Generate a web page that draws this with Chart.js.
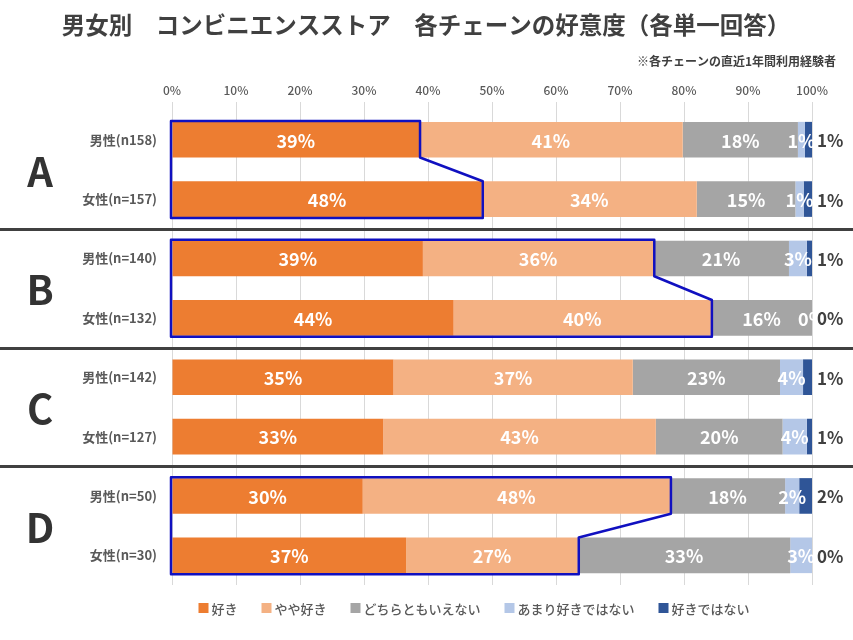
<!DOCTYPE html>
<html>
<head>
<meta charset="utf-8">
<script src="https://cdn.jsdelivr.net/npm/chart.js@4"></script>
<style>
  html, body { margin: 0; padding: 0; background: #fff; }
  #wrap { width: 853px; height: 640px; }
</style>
</head>
<body>
<div id="wrap"><canvas id="chart"></canvas></div>
<script>
const FONT = "'Noto Sans CJK JP', 'Noto Sans', sans-serif";

const title = "男女別　コンビニエンスストア　各チェーンの好意度（各単一回答）";
const subtitle = "※各チェーンの直近1年間利用経験者";

const rowLabels = ["男性(n158)", "女性(n=157)", "男性(n=140)", "女性(n=132)",
                   "男性(n=142)", "女性(n=127)", "男性(n=50)", "女性(n=30)"];
const groups = ["A", "B", "C", "D"];

const answers = ["好き", "やや好き", "どちらともいえない", "あまり好きではない", "好きではない"];
const answerColors = ["#ED7D31", "#F4B183", "#A5A5A5", "#B4C7E7", "#2F5597"];

const like       = [38.6, 48.4, 39.2, 44.0, 34.6, 33.0, 29.8, 36.6];
const ratherLike = [41.2, 33.6, 36.0, 40.2, 37.4, 42.6, 48.0, 26.8];
const neither    = [18.0, 15.4, 21.2, 15.8, 23.0, 19.8, 18.0, 33.2];
const ratherNot  = [1.1, 1.3, 2.8, 0, 3.6, 3.8, 2.2, 3.4];
const dislike    = [1.1, 1.3, 0.8, 0, 1.4, 0.8, 2.0, 0];

const xTicks = [0, 10, 20, 30, 40, 50, 60, 70, 80, 90, 100];

// blue outlines: which two rows, and up to which answer the box reaches
const outlines = [
  { rows: [0, 1], upto: 0 },
  { rows: [2, 3], upto: 1 },
  { rows: [6, 7], upto: 1 },
];

const series = [like, ratherLike, neither, ratherNot, dislike];

const decor = {
  id: "decor",
  afterDatasetsDraw(chart) {
    const ctx = chart.ctx;
    const x0 = chart.scales.x.getPixelForValue(0);

    // blue boxes
    ctx.save();
    ctx.strokeStyle = "#1010c0";
    ctx.lineWidth = 2.5;
    ctx.lineJoin = "round";
    outlines.forEach(o => {
      const meta = chart.getDatasetMeta(o.upto);
      const a = meta.data[o.rows[0]], b = meta.data[o.rows[1]];
      const aTop = a.y - a.height / 2 - 1, aBot = a.y + a.height / 2;
      const bTop = b.y - b.height / 2, bBot = b.y + b.height / 2 + 1;
      ctx.beginPath();
      ctx.moveTo(x0 - 1, aTop);
      ctx.lineTo(a.x + 1, aTop);
      ctx.lineTo(a.x + 1, aBot);
      ctx.lineTo(b.x + 1, bTop);
      ctx.lineTo(b.x + 1, bBot);
      ctx.lineTo(x0 - 1, bBot);
      ctx.closePath();
      ctx.stroke();
    });
    ctx.restore();

    // value labels
    ctx.save();
    ctx.textBaseline = "middle";
    series.forEach((vals, i) => {
      if (i > 3) return;
      const meta = chart.getDatasetMeta(i);
      meta.data.forEach((bar, j) => {
        ctx.font = "bold 18px " + FONT;
        ctx.fillStyle = "#ffffff";
        ctx.textAlign = "center";
        ctx.fillText(Math.round(vals[j]) + "%", (bar.x + bar.base) / 2, bar.y + 1);
      });
    });
    const last = chart.getDatasetMeta(4);
    last.data.forEach((bar, j) => {
      ctx.font = "bold 17px " + FONT;
      ctx.fillStyle = "#404040";
      ctx.textAlign = "left";
      ctx.fillText(Math.round(dislike[j]) + "%", bar.x + 5, bar.y + 1);
    });
    ctx.restore();
  },
  afterDraw(chart) {
    const ctx = chart.ctx;
    const y = chart.scales.y;
    const W = chart.width;
    ctx.save();

    // title + note
    ctx.fillStyle = "#404040";
    ctx.textBaseline = "middle";
    ctx.textAlign = "center";
    ctx.font = "bold 23.5px " + FONT;
    ctx.fillText(title, 426, 25);
    ctx.textAlign = "right";
    ctx.font = "bold 12px " + FONT;
    ctx.fillText(subtitle, 836, 61);

    // group separators and letters
    const step = (y.getPixelForValue(1) - y.getPixelForValue(0));
    ctx.strokeStyle = "#404040";
    ctx.lineWidth = 3;
    for (let g = 1; g < groups.length; g++) {
      const py = Math.round(y.getPixelForValue(g * 2) - step / 2) + 0.5;
      ctx.beginPath();
      ctx.moveTo(0, py);
      ctx.lineTo(W, py);
      ctx.stroke();
    }
    ctx.fillStyle = "#333333";
    ctx.textAlign = "center";
    ctx.font = "bold 40px " + FONT;
    groups.forEach((gname, g) => {
      const py = (y.getPixelForValue(g * 2) + y.getPixelForValue(g * 2 + 1)) / 2;
      ctx.fillText(gname, 40, py + 2);
    });

    // legend
    ctx.font = "500 13px " + FONT;
    const box = 10, gapBox = 3, gapItem = 24;
    const widths = answers.map(a => ctx.measureText(a).width);
    const total = widths.reduce((s, w) => s + box + gapBox + w, 0) + gapItem * (answers.length - 1);
    let lx = 474 - total / 2;
    const ly = 608;
    ctx.textAlign = "left";
    answers.forEach((a, i) => {
      ctx.fillStyle = answerColors[i];
      ctx.fillRect(lx, ly - box / 2, box, box);
      ctx.fillStyle = "#595959";
      ctx.fillText(a, lx + box + gapBox, ly + 1);
      lx += box + gapBox + widths[i] + gapItem;
    });
    ctx.restore();
  }
};

new Chart(document.getElementById("chart"), {
  type: "bar",
  plugins: [decor],
  data: {
    labels: rowLabels,
    datasets: series.map((vals, i) => ({
      label: answers[i],
      data: vals,
      backgroundColor: answerColors[i],
      borderWidth: 0,
      barPercentage: 0.6,
      categoryPercentage: 1.0,
    })),
  },
  options: {
    indexAxis: "y",
    responsive: true,
    maintainAspectRatio: false,
    animation: false,
    layout: { padding: { left: 0, right: 41, top: 80, bottom: 55 } },
    plugins: {
      legend: { display: false },
      title: { display: false },
      tooltip: { enabled: false },
    },
    scales: {
      x: {
        position: "top",
        stacked: true,
        min: 0,
        max: 100,
        afterBuildTicks: (s) => { s.ticks = xTicks.map(v => ({ value: v })); },
        afterFit: (s) => { s.height = 30; },
        ticks: {
          callback: (v) => v + "%",
          color: "#595959",
          font: { family: FONT, size: 12, weight: "500" },
          padding: 4,
          maxRotation: 0,
        },
        grid: { color: "#d9d9d9", tickLength: 8, tickColor: "#d9d9d9" },
        border: { display: false },
      },
      y: {
        stacked: true,
        afterFit: (s) => { s.width = 172; },
        ticks: {
          color: "#595959",
          font: { family: FONT, size: 13, weight: "bold" },
          padding: 7,
        },
        grid: { display: false },
        border: { display: false },
      },
    },
  },
});
</script>
</body>
</html>
